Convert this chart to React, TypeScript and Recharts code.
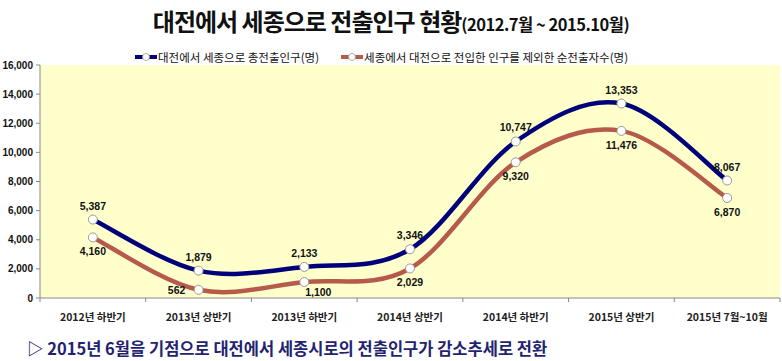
import React from 'react';
import { LineChart, Line, XAxis, YAxis, CartesianGrid, LabelList } from 'recharts';

const periods = ['2012년 하반기', '2013년 상반기', '2013년 하반기', '2014년 상반기', '2014년 하반기', '2015년 상반기', '2015년 7월~10월'];
const totalOut = [5387, 1879, 2133, 3346, 10747, 13353, 8067];
const netOut = [4160, 562, 1100, 2029, 9320, 11476, 6870];
const yTicks = [0, 2000, 4000, 6000, 8000, 10000, 12000, 14000, 16000];

const totalName = '대전에서 세종으로 총전출인구(명)';
const netName = '세종에서 대전으로 전입한 인구를 제외한 순전출자수(명)';

const data = periods.map((p, i) => ({ period: p, total: totalOut[i], net: netOut[i] }));

const NAVY = '#00007a';
const BROWN = '#b65a4c';
const KR = '"Noto Sans CJK KR", sans-serif';
const NUM = '"Liberation Sans", Arial, sans-serif';
const BAND = 740 / periods.length;

// Excel-like smoothed line (Catmull-Rom style bezier)
const smoothCurve = (context: any) => {
  let pts: number[][] = [];
  return {
    areaStart() {},
    areaEnd() {},
    lineStart() {
      pts = [];
    },
    point(x: number, y: number) {
      pts.push([+x, +y]);
    },
    lineEnd() {
      if (!pts.length) return;
      context.moveTo(pts[0][0], pts[0][1]);
      for (let i = 0; i < pts.length - 1; i++) {
        const p0 = pts[i - 1] || pts[i];
        const p1 = pts[i];
        const p2 = pts[i + 1];
        const p3 = pts[i + 2] || p2;
        context.bezierCurveTo(
          p1[0] + (p2[0] - p0[0]) / 6,
          p1[1] + (p2[1] - p0[1]) / 6,
          p2[0] - (p3[0] - p1[0]) / 6,
          p2[1] - (p3[1] - p1[1]) / 6,
          p2[0],
          p2[1]
        );
      }
    },
  };
};

const fmt = (v: number) => v.toLocaleString('en-US');

const PeriodTick = (props: any) => {
  const { x, y, payload, index } = props;
  return (
    <g>
      <line x1={x - BAND / 2} x2={x - BAND / 2} y1={y} y2={y + 4} stroke="#888" />
      {index === periods.length - 1 && (
        <line x1={x + BAND / 2} x2={x + BAND / 2} y1={y} y2={y + 4} stroke="#888" />
      )}
      <text x={x} y={y + 23} textAnchor="middle" fontFamily={KR} fontSize={10.5} fontWeight="bold" fill="#222">
        {payload.value}
      </text>
    </g>
  );
};

// label placement per point: [dx, dy]
const netLabelOffset = [
  [0, 18],
  [-22, 4],
  [14, 14],
  [0, 18],
  [0, 18],
  [0, 18],
  [0, 18],
];

const makeLabel = (offsets: number[][] | null) => (props: any) => {
  const { x, y, value, index } = props;
  const [dx, dy] = offsets ? offsets[index] : [0, -10];
  return (
    <text x={x + dx} y={y + dy} textAnchor="middle" fontFamily={NUM} fontSize={10.5} fontWeight="bold" fill="#111">
      {fmt(value)}
    </text>
  );
};

const dot = { r: 4.5, fill: '#fff', stroke: '#999', strokeWidth: 1 };

const LegendItem = ({ color, label }: { color: string; label: string }) => (
  <div style={{ display: 'flex', alignItems: 'center' }}>
    <svg width={22} height={10}>
      <line x1={0} x2={22} y1={5} y2={5} stroke={color} strokeWidth={4} />
      <circle cx={11} cy={5} r={3.5} fill="#fff" stroke="#999" strokeWidth={0.8} />
    </svg>
    <span style={{ marginLeft: 1 }}>{label}</span>
  </div>
);

export default function App() {
  return (
    <div style={{ position: 'absolute', left: 0, top: 0, width: 782, height: 361, background: '#fff', overflow: 'hidden' }}>
      <div
        style={{
          position: 'absolute',
          left: 0,
          top: 6,
          width: 782,
          textAlign: 'center',
          fontFamily: KR,
          fontWeight: 'bold',
          color: '#111',
          whiteSpace: 'nowrap',
          lineHeight: '30px',
        }}
      >
        <span style={{ fontSize: 24, letterSpacing: -1 }}>대전에서 세종으로 전출인구 현황</span>
        <span style={{ fontSize: 16.5, letterSpacing: -0.5 }}>(2012.7월 ~ 2015.10월)</span>
      </div>

      <div
        style={{
          position: 'absolute',
          left: 135,
          top: 49,
          display: 'flex',
          gap: 22,
          fontFamily: KR,
          fontSize: 11.5,
          color: '#111',
          whiteSpace: 'nowrap',
          lineHeight: '16px',
        }}
      >
        <LegendItem color={NAVY} label={totalName} />
        <LegendItem color={BROWN} label={netName} />
      </div>

      <div style={{ position: 'absolute', left: 0, top: 0 }}>
        <LineChart width={782} height={330} data={data} margin={{ top: 65, right: 2, bottom: 2, left: 0 }}>
          <CartesianGrid fill="#ffffcc" horizontal={false} vertical={false} />
          <XAxis
            dataKey="period"
            stroke="#888"
            tickLine={false}
            tickSize={0}
            tickMargin={0}
            height={30}
            interval={0}
            padding={{ left: BAND / 2, right: BAND / 2 }}
            tick={<PeriodTick />}
          />
          <YAxis
            width={40}
            domain={[0, 16000]}
            ticks={yTicks}
            interval={0}
            stroke="#888"
            tickSize={4}
            tickMargin={3}
            tickFormatter={fmt}
            tick={{ fontFamily: NUM, fontSize: 10, fontWeight: 'bold', fill: '#111' }}
          />
          <Line
            dataKey="total"
            name={totalName}
            type={smoothCurve as any}
            stroke={NAVY}
            strokeWidth={4.5}
            dot={dot}
            activeDot={false}
            isAnimationActive={false}
          >
            <LabelList dataKey="total" content={makeLabel(null)} />
          </Line>
          <Line
            dataKey="net"
            name={netName}
            type={smoothCurve as any}
            stroke={BROWN}
            strokeWidth={4.5}
            dot={dot}
            activeDot={false}
            isAnimationActive={false}
          >
            <LabelList dataKey="net" content={makeLabel(netLabelOffset)} />
          </Line>
        </LineChart>
      </div>

      <div
        style={{
          position: 'absolute',
          left: 27,
          top: 339,
          fontFamily: KR,
          fontWeight: 'bold',
          fontSize: 16.5,
          color: '#1f2470',
          whiteSpace: 'nowrap',
          lineHeight: '19px',
        }}
      >
        ▷ 2015년 6월을 기점으로 대전에서 세종시로의 전출인구가 감소추세로 전환
      </div>
    </div>
  );
}
